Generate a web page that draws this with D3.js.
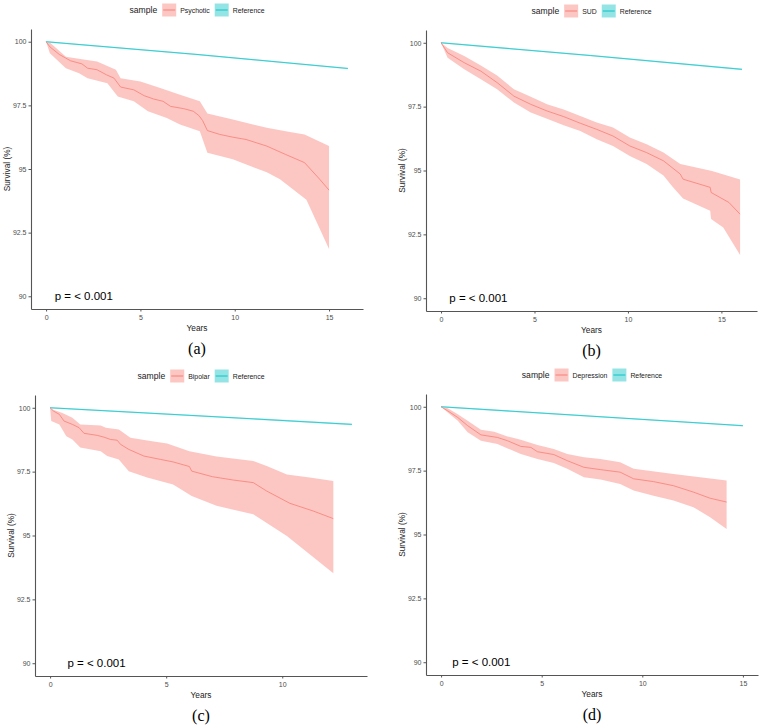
<!doctype html>
<html>
<head>
<meta charset="UTF-8">
<title>Survival curves</title>
<script src="https://cdn.jsdelivr.net/npm/d3@7"></script>
<style>
  body { margin: 0; background: #fff; }
  svg text { font-family: "Liberation Sans", Arial, sans-serif; }
</style>
</head>
<body>
<svg id="chart" width="761" height="727"></svg>
<script>
// ---- data ----
const yTicks = [90, 92.5, 95, 97.5, 100];

// (a) Psychotic
const psyTime = [0, 0.2, 0.7, 1.3, 1.9, 2.2, 2.7, 3.2, 3.6, 3.95, 4.65, 5.2, 5.7, 6.2, 6.6, 7.3, 7.8, 8.1, 8.3, 8.55, 9.2, 9.9, 10.6, 11.7, 12.7, 13.7, 14.5, 15];
const psySurv = [100, 99.8, 99.5, 99.25, 99.13, 98.96, 98.9, 98.7, 98.57, 98.22, 98.11, 97.88, 97.75, 97.66, 97.46, 97.37, 97.27, 97.1, 96.9, 96.51, 96.36, 96.25, 96.16, 95.9, 95.57, 95.25, 94.6, 94.17];
const psyUpTime = [0, 0.2, 1.05, 1.9, 2.7, 3.7, 3.95, 5.0, 6.05, 7.1, 8.15, 8.55, 9.9, 11.7, 12.7, 13.7, 15];
const psyUp = [100, 99.97, 99.41, 99.31, 99.22, 98.9, 98.57, 98.44, 98.18, 97.92, 97.66, 97.18, 96.94, 96.62, 96.48, 96.36, 95.9];
const psyLoTime = [0, 0.2, 1.05, 1.75, 2.2, 3.25, 3.8, 4.65, 5.4, 6.4, 7.1, 8.15, 8.55, 9.9, 11.7, 12.4, 13.8, 15];
const psyLo = [100, 99.55, 98.96, 98.76, 98.57, 98.37, 97.85, 97.66, 97.27, 97.0, 96.75, 96.48, 95.64, 95.38, 94.87, 94.6, 93.79, 91.86];
const psyRefTime = [0, 8, 16];
const psyRef = [100, 99.5, 98.95];

// (b) SUD
const sudTime = [0, 0.35, 1.24, 2.13, 3.0, 3.9, 4.8, 5.67, 6.56, 7.45, 8.33, 9.2, 10.1, 11.0, 11.9, 12.8, 12.95, 14.4, 14.45, 15.4, 16];
const sudSurv = [100, 99.61, 99.22, 98.89, 98.44, 97.91, 97.59, 97.33, 97.11, 96.85, 96.61, 96.35, 95.96, 95.7, 95.38, 94.86, 94.66, 94.34, 94.14, 93.75, 93.29];
const sudUpTime = [0, 0.35, 1.24, 2.13, 3.0, 3.9, 4.8, 5.67, 6.56, 7.45, 8.33, 9.2, 10.1, 11.0, 11.9, 12.8, 13.65, 14.5, 16];
const sudUp = [100, 99.8, 99.48, 99.11, 98.72, 98.18, 97.89, 97.59, 97.39, 97.13, 96.88, 96.68, 96.29, 96.03, 95.7, 95.25, 95.12, 94.98, 94.65];
const sudLoTime = [0, 0.35, 1.24, 2.13, 3.0, 3.9, 4.8, 5.67, 6.56, 7.45, 8.33, 9.2, 10.1, 11.0, 11.9, 12.4, 12.95, 14.4, 14.45, 15.1, 16];
const sudLo = [100, 99.41, 98.96, 98.57, 98.18, 97.66, 97.27, 97.03, 96.77, 96.55, 96.22, 95.96, 95.57, 95.25, 94.8, 94.35, 93.9, 93.42, 93.1, 92.77, 91.69];
const sudRefTime = [0, 8, 16.1];
const sudRef = [100, 99.5, 98.96];

// (c) Bipolar
const bipTime = [0, 0.15, 0.4, 0.6, 0.96, 1.25, 1.46, 2.03, 2.32, 2.6, 2.89, 3.03, 3.39, 4.04, 4.75, 5.3, 6.0, 6.1, 7.0, 7.9, 8.75, 9.33, 10.33, 11.33, 12.2];
const bipSurv = [100, 99.87, 99.74, 99.48, 99.35, 99.22, 99.0, 98.92, 98.85, 98.76, 98.73, 98.57, 98.37, 98.11, 97.98, 97.88, 97.7, 97.52, 97.3, 97.17, 97.07, 96.74, 96.26, 95.96, 95.66];
const bipUpTime = [0, 0.05, 0.53, 0.96, 1.3, 2.18, 2.4, 2.96, 3.46, 4.32, 5.04, 6.0, 7.17, 8.75, 9.33, 10.2, 11.18, 12.2];
const bipUp = [100, 99.95, 99.8, 99.61, 99.35, 99.31, 99.22, 99.15, 98.83, 98.7, 98.6, 98.3, 98.09, 97.92, 97.72, 97.39, 97.27, 97.13];
const bipLoTime = [0, 0.05, 0.4, 0.7, 0.96, 1.3, 2.18, 2.46, 2.96, 3.39, 4.18, 5.3, 6.1, 7.17, 8.75, 10.2, 12.2];
const bipLo = [100, 99.48, 99.35, 98.89, 98.76, 98.44, 98.3, 98.11, 97.98, 97.52, 97.27, 97.0, 96.55, 96.16, 95.83, 94.98, 93.52];
const bipRefTime = [0, 6.5, 13];
const bipRef = [100, 99.68, 99.35];

// (d) Depression
const depTime = [0, 0.33, 0.83, 1.32, 1.98, 2.8, 3.3, 3.96, 4.46, 4.79, 5.6, 6.27, 7.1, 7.92, 8.9, 9.57, 10.56, 11.55, 12.54, 13.37, 14.19];
const depSurv = [100, 99.84, 99.58, 99.26, 98.9, 98.8, 98.67, 98.45, 98.41, 98.24, 98.13, 97.89, 97.63, 97.54, 97.44, 97.18, 97.07, 96.91, 96.66, 96.42, 96.27];
const depUpTime = [0, 0.33, 0.83, 1.32, 1.98, 2.64, 3.3, 3.96, 4.79, 5.6, 6.27, 7.1, 7.92, 8.9, 9.57, 11.55, 12.87, 14.19];
const depUp = [100, 99.94, 99.71, 99.45, 99.1, 99.02, 98.84, 98.71, 98.5, 98.35, 98.15, 98.02, 97.96, 97.83, 97.57, 97.37, 97.24, 97.11];
const depLoTime = [0, 0.33, 0.83, 1.32, 1.98, 2.8, 3.96, 4.79, 5.6, 6.27, 7.1, 7.92, 8.9, 9.57, 10.56, 11.55, 12.54, 13.37, 14.19];
const depLo = [100, 99.78, 99.45, 99.0, 98.67, 98.54, 98.15, 97.96, 97.8, 97.57, 97.24, 97.15, 96.98, 96.72, 96.52, 96.33, 96.07, 95.68, 95.22];
const depRefTime = [0, 7.5, 15];
const depRef = [100, 99.63, 99.26];

const panels = [
  { tag: "(a)", name: "Psychotic", xTicks: [0, 5, 10, 15],
    time: psyTime, surv: psySurv, upTime: psyUpTime, up: psyUp, loTime: psyLoTime, lo: psyLo, refTime: psyRefTime, ref: psyRef },
  { tag: "(b)", name: "SUD", xTicks: [0, 5, 10, 15],
    time: sudTime, surv: sudSurv, upTime: sudUpTime, up: sudUp, loTime: sudLoTime, lo: sudLo, refTime: sudRefTime, ref: sudRef },
  { tag: "(c)", name: "Bipolar", xTicks: [0, 5, 10],
    time: bipTime, surv: bipSurv, upTime: bipUpTime, up: bipUp, loTime: bipLoTime, lo: bipLo, refTime: bipRefTime, ref: bipRef },
  { tag: "(d)", name: "Depression", xTicks: [0, 5, 10, 15],
    time: depTime, surv: depSurv, upTime: depUpTime, up: depUp, loTime: depLoTime, lo: depLo, refTime: depRefTime, ref: depRef }
];

// plot-area boxes, in page pixels
const boxes = [
  { left: 31, top: 29, right: 363, bottom: 309 },
  { left: 426, top: 30, right: 757, bottom: 311 },
  { left: 35, top: 395, right: 367, bottom: 676 },
  { left: 426, top: 394, right: 758, bottom: 675 }
];

const red = "#F8766D", cyan = "#00BFC4";
const svg = d3.select("#chart");

panels.forEach((p, i) => {
  const b = boxes[i];
  const tMax = d3.max(p.refTime);
  const x = d3.scaleLinear().domain([-0.05 * tMax, 1.05 * tMax]).range([b.left, b.right]);
  const y = d3.scaleLinear().domain([89.5, 100.5]).range([b.bottom, b.top]);
  const g = svg.append("g");

  const line = d3.line().x(d => x(d[0])).y(d => y(d[1]));
  const zip = (ts, vs) => ts.map((t, k) => [t, vs[k]]);

  // confidence band: upper edge forward, lower edge back
  const band = zip(p.upTime, p.up).concat(zip(p.loTime, p.lo).reverse());
  g.append("path").attr("d", line(band) + "Z")
    .attr("fill", red).attr("fill-opacity", 0.42).attr("stroke", "none");

  g.append("path").attr("d", line(zip(p.refTime, p.ref)))
    .attr("fill", "none").attr("stroke", "#b3eaeb").attr("stroke-width", 1.6);
  g.append("path").attr("d", line(zip(p.refTime, p.ref)))
    .attr("fill", "none").attr("stroke", cyan).attr("stroke-width", 0.7);

  g.append("path").attr("d", line(zip(p.time, p.surv)))
    .attr("fill", "none").attr("stroke", red).attr("stroke-width", 0.7);

  // axes
  const yAxis = g.append("g").attr("transform", `translate(${b.left},0)`)
    .call(d3.axisLeft(y).tickValues(yTicks).tickFormat(d3.format("")).tickSize(2.5).tickSizeOuter(0).tickPadding(2));
  const xAxis = g.append("g").attr("transform", `translate(0,${b.bottom})`)
    .call(d3.axisBottom(x).tickValues(p.xTicks).tickSize(2.5).tickSizeOuter(0).tickPadding(4));
  [yAxis, xAxis].forEach(a => {
    a.select(".domain").attr("stroke", "#555").attr("stroke-width", 1.1);
    a.selectAll(".tick line").attr("stroke", "#555");
    a.selectAll(".tick text").attr("fill", "#4D4D4D").style("font-size", "7px")
      .style("font-family", "'Liberation Sans', Arial, sans-serif");
  });

  // p-value
  g.append("text").attr("x", x(2)).attr("y", y(90))
    .attr("text-anchor", "middle").attr("dominant-baseline", "central")
    .style("font-size", "11.5px").attr("fill", "#000").text("p = < 0.001");

  // axis titles
  g.append("text").attr("x", (b.left + b.right) / 2).attr("y", b.bottom + 19)
    .attr("text-anchor", "middle").attr("dominant-baseline", "central")
    .style("font-size", "8.3px").attr("fill", "#222").text("Years");
  g.append("text")
    .attr("transform", `translate(${b.left - 24},${(b.top + b.bottom) / 2}) rotate(-90)`)
    .attr("text-anchor", "middle").attr("dominant-baseline", "central")
    .style("font-size", "8.3px").attr("fill", "#222").text("Survival (%)");

  // panel caption
  g.append("text").attr("x", (b.left + b.right) / 2).attr("y", b.bottom + 39)
    .attr("text-anchor", "middle").attr("dominant-baseline", "central")
    .style("font-family", "'Liberation Serif', 'Times New Roman', serif")
    .style("font-size", "16px").attr("fill", "#000").text(p.tag);

  // legend
  const lg = g.append("g");
  let cx = 0;
  const title = lg.append("text").attr("x", cx).attr("dominant-baseline", "central")
    .style("font-size", "8.6px").attr("fill", "#222").text("sample");
  cx += title.node().getComputedTextLength() + 5;
  [[p.name, red], ["Reference", cyan]].forEach(([lab, col]) => {
    lg.append("rect").attr("x", cx).attr("y", -6.5).attr("width", 14).attr("height", 13)
      .attr("fill", col).attr("fill-opacity", 0.42);
    lg.append("line").attr("x1", cx + 1).attr("x2", cx + 13).attr("y1", 0).attr("y2", 0)
      .attr("stroke", col).attr("stroke-width", 0.9);
    cx += 18;
    const t = lg.append("text").attr("x", cx).attr("dominant-baseline", "central")
      .style("font-size", "6.9px").attr("fill", "#222").text(lab);
    cx += t.node().getComputedTextLength() + 5;
  });
  cx -= 5;
  lg.attr("transform", `translate(${(b.left + b.right) / 2 - cx / 2},${b.top - 19})`);
});
</script>
</body>
</html>
